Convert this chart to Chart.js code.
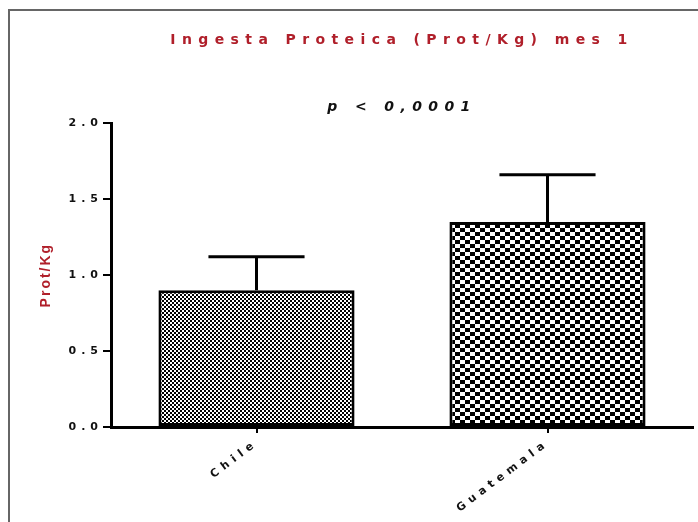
<!DOCTYPE html>
<html>
<head>
<meta charset="utf-8">
<script src="https://cdn.jsdelivr.net/npm/chart.js@4/dist/chart.umd.min.js"></script>
<style>
  html, body { margin: 0; padding: 0; background: #fff; overflow: hidden; }
  #frame {
    position: absolute; left: 8px; top: 9px; width: 700px; height: 520px;
    border-top: 2px solid #666; border-left: 2px solid #666;
  }
  #myChart { position: absolute; left: 0; top: 0; }
</style>
</head>
<body>
<div id="frame"></div>
<canvas id="myChart" width="698" height="522"></canvas>
<script>
// data
const categories = ['Chile', 'Guatemala'];
const means = [0.90, 1.35];
const sdValues = [0.22, 0.31];
const yTickValues = [0, 0.5, 1.0, 1.5, 2.0];

const chartTitle = 'Ingesta Proteica (Prot/Kg) mes 1';
const pValueText = 'p < 0,0001';
const yAxisTitle = 'Prot/Kg';

const titleRed = '#b01f2a';
const wideFont = "'DejaVu Sans', Verdana, sans-serif";

var makeChecker = function (cellW, cellH) {
    var c = document.createElement('canvas');
    c.width = cellW * 2;
    c.height = cellH * 2;
    var g = c.getContext('2d');
    g.fillStyle = '#000';
    g.fillRect(0, 0, c.width, c.height);
    g.fillStyle = '#fff';
    g.fillRect(0, 0, cellW, cellH);
    g.fillRect(cellW, cellH, cellW, cellH);
    return document.getElementById('myChart').getContext('2d').createPattern(c, 'repeat');
};

const barPatterns = [makeChecker(2, 2), makeChecker(5, 4)];

// letter spacing per drawing stage (title, then ticks), plus error bars and y title
const textPlugin = {
    id: 'textPlugin',
    beforeDraw(chart) {
        chart.ctx.letterSpacing = '6.4px';
    },
    afterDatasetsDraw(chart) {
        const ctx = chart.ctx;
        const meta = chart.getDatasetMeta(0);
        const y = chart.scales.y;
        ctx.save();
        ctx.strokeStyle = '#000';
        ctx.lineWidth = 3;
        meta.data.forEach((bar, i) => {
            const top = y.getPixelForValue(means[i] + sdValues[i]);
            const half = bar.width * 0.245;
            ctx.beginPath();
            ctx.moveTo(bar.x, bar.y);
            ctx.lineTo(bar.x, top);
            ctx.moveTo(bar.x - half, top);
            ctx.lineTo(bar.x + half, top);
            ctx.stroke();
        });
        ctx.restore();
        ctx.letterSpacing = '5px';
    },
    afterDraw(chart) {
        const ctx = chart.ctx;
        const area = chart.chartArea;
        ctx.save();
        ctx.letterSpacing = '2px';
        ctx.translate(46, (area.top + area.bottom) / 2);
        ctx.rotate(-Math.PI / 2);
        ctx.font = "bold 14px 'Liberation Sans', Arial, sans-serif";
        ctx.fillStyle = titleRed;
        ctx.textAlign = 'center';
        ctx.textBaseline = 'middle';
        ctx.fillText(yAxisTitle, 0, 0);
        ctx.restore();
        ctx.letterSpacing = '0px';
    }
};

Chart.defaults.font.family = wideFont;

new Chart(document.getElementById('myChart'), {
    type: 'bar',
    data: {
        labels: categories,
        datasets: [{
            data: means,
            backgroundColor: barPatterns,
            borderColor: '#000',
            borderWidth: 3,
            borderSkipped: false,
            categoryPercentage: 1,
            barPercentage: 0.674
        }]
    },
    options: {
        responsive: false,
        animation: false,
        events: [],
        layout: { padding: { top: 0, left: 0, right: 5, bottom: 0 } },
        plugins: {
            legend: { display: false },
            tooltip: { enabled: false },
            title: {
                display: true,
                text: chartTitle,
                fullSize: false,
                color: titleRed,
                font: { size: 14, weight: 'bold' },
                padding: { top: 32, bottom: 0 }
            },
            subtitle: {
                display: true,
                text: pValueText,
                fullSize: false,
                color: '#111',
                font: { size: 14, weight: 'bold', style: 'italic' },
                padding: { top: 50, bottom: 7.6 }
            }
        },
        scales: {
            x: {
                grid: {
                    display: true, drawOnChartArea: false, offset: false,
                    tickLength: 6, color: '#000', lineWidth: 2
                },
                border: { display: true, color: '#000', width: 3 },
                ticks: {
                    z: 1, color: '#111', padding: 4,
                    minRotation: 37, maxRotation: 37,
                    font: { size: 11, weight: 'bold' }
                },
                afterFit(scale) { scale.height = 95; }
            },
            y: {
                min: 0,
                max: 2,
                afterBuildTicks(scale) {
                    scale.ticks = yTickValues.map(v => ({ value: v }));
                },
                grid: {
                    display: true, drawOnChartArea: false,
                    tickLength: 8, color: '#000', lineWidth: 2
                },
                border: { display: true, color: '#000', width: 3 },
                ticks: {
                    z: 1, color: '#111', padding: 0,
                    font: { size: 11, weight: 'bold' },
                    callback: v => v.toFixed(1)
                },
                afterFit(scale) { scale.width = 111; }
            }
        }
    },
    plugins: [textPlugin]
});
</script>
</body>
</html>
